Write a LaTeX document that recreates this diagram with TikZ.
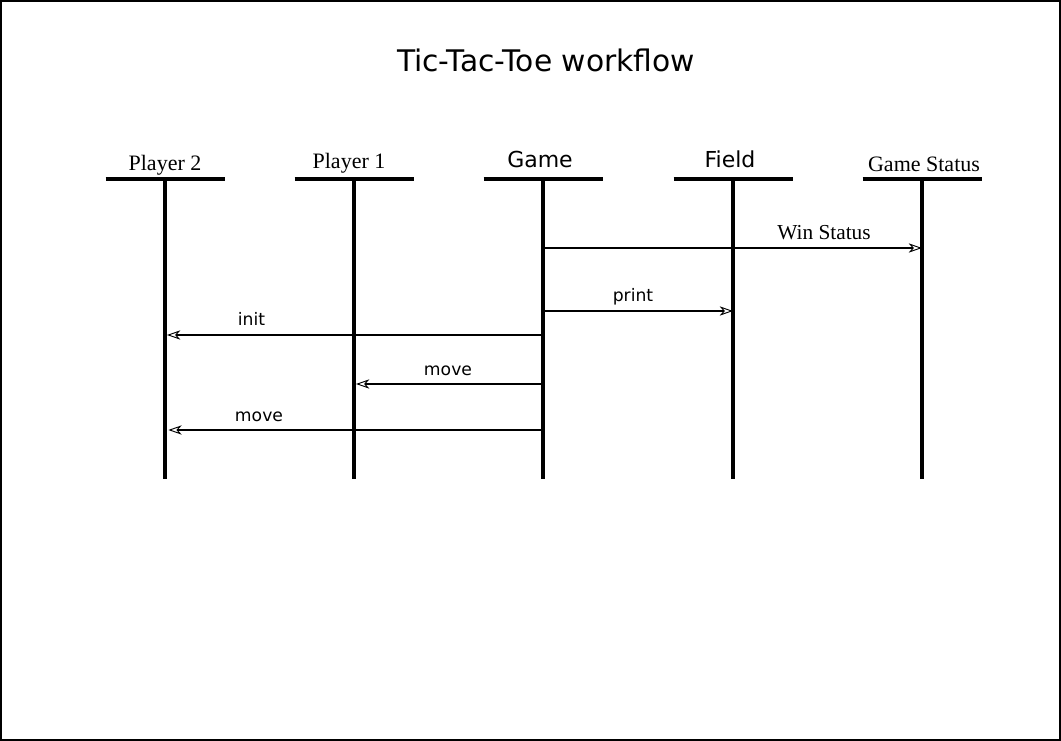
\documentclass[tikz,border=0pt]{standalone}
\usepackage{fontspec}
\newfontfamily\lblserif{Liberation Serif}
\newfontfamily\lblsans{DejaVu Sans}
\usetikzlibrary{arrows.meta}
\begin{document}
\begin{tikzpicture}[x=0.75pt,y=-0.75pt,
  lifeline/.style={line width=2.5pt},
  headbar/.style={line width=2.5pt},
  msg/.style={line width=1.6pt,-{Stealth[open,length=10pt,width=7pt,inset=3pt,line width=0.7pt]}},
  serifhead/.style={font=\lblserif\fontsize{16.5}{18}\selectfont,anchor=base,inner sep=0pt},
  sanshead/.style={font=\lblsans\fontsize{16.5}{18}\selectfont,anchor=base,inner sep=0pt},
  msglabel/.style={font=\lblsans\fontsize{12.9}{15}\selectfont,anchor=base,inner sep=0pt},
  msgserif/.style={font=\lblserif\fontsize{16}{18}\selectfont,anchor=base,inner sep=0pt}]
  % page and frame
  \useasboundingbox (0,0) rectangle (1061,741);
  \draw[line width=1.3pt] (1,1) rectangle (1060,740);
  % title
  \node[font=\lblsans\fontsize{22.3}{26}\selectfont,anchor=base,inner sep=0pt] (title) at (546,71.5) {Tic-Tac-Toe workflow};
  % lifeline heads
  \coordinate (p2) at (165,179);
  \coordinate (p1) at (354,179);
  \coordinate (game) at (543,179);
  \coordinate (field) at (733,179);
  \coordinate (status) at (922,179);
  \foreach \c in {p2,p1,game,field,status}{
    \draw[headbar] ([xshift=-59.5*0.75pt]\c) -- ([xshift=59.5*0.75pt]\c);
    \draw[lifeline] (\c) -- ([yshift=-300*0.75pt]\c);
  }
  % lifeline names
  \node[serifhead] (lp2) at (165,171) {Player 2};
  \node[serifhead] (lp1) at (349,169) {Player 1};
  \node[sanshead] (lgame) at (540,168) {Game};
  \node[sanshead] (lfield) at (730,168) {Field};
  \node[serifhead] (lstatus) at (924,172) {Game Status};
  % messages
  \draw[msg] (game |- 0,248) -- (status |- 0,248);
  \node[msgserif] (mwin) at (824,239.5) {Win Status};
  \draw[msg] (game |- 0,311) -- (field |- 0,311);
  \node[msglabel] (mprint) at (633,301.5) {print};
  \draw[msg] (game |- 0,335) -- ([xshift=1.5pt]p2 |- 0,335);
  \node[msglabel] (minit) at (251.5,325.5) {init};
  \draw[msg] (game |- 0,384) -- ([xshift=1.5pt]p1 |- 0,384);
  \node[msglabel] (mmove1) at (448,376) {move};
  \draw[msg] (game |- 0,430) -- ([xshift=2.5pt]p2 |- 0,430);
  \node[msglabel] (mmove2) at (259,421.5) {move};
\end{tikzpicture}
\end{document}
